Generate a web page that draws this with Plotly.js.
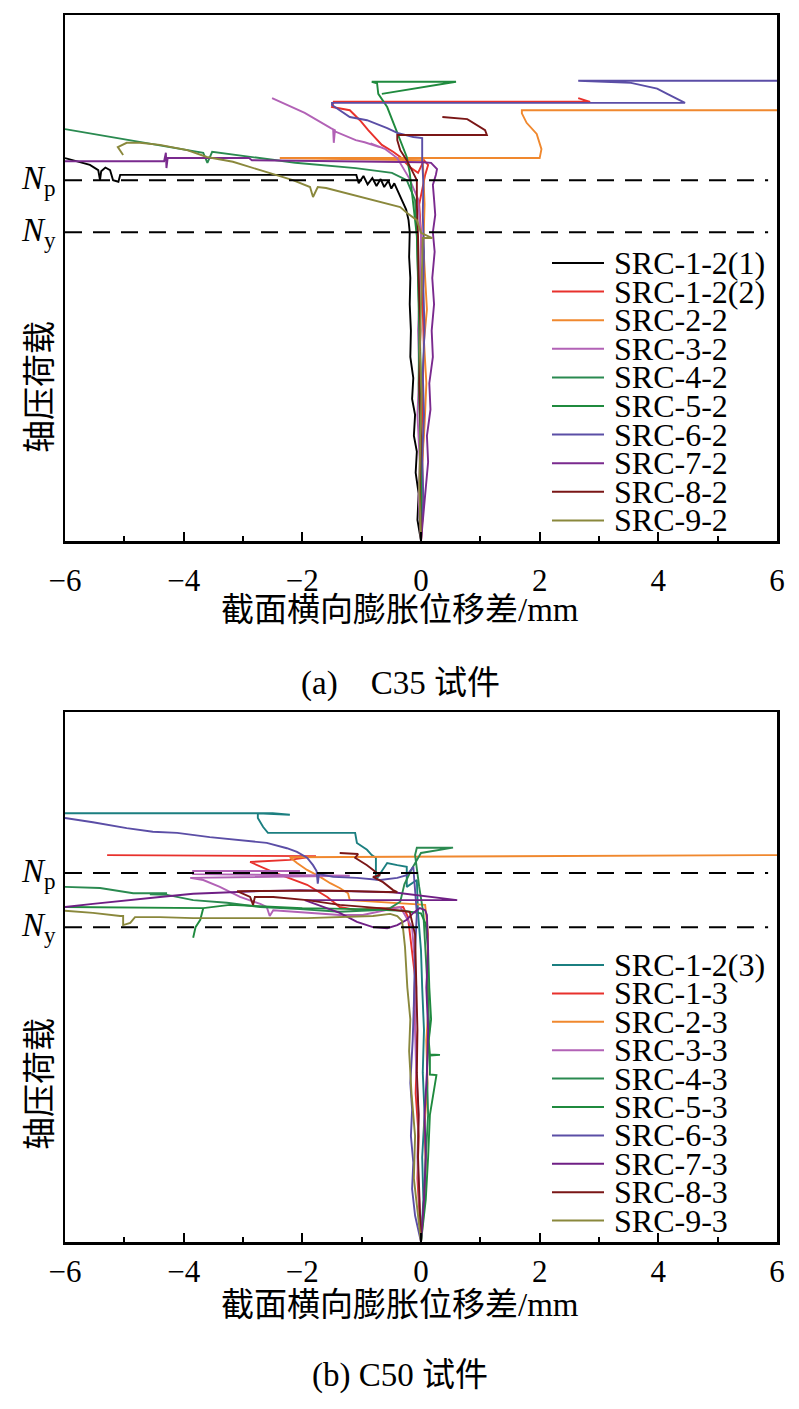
<!DOCTYPE html>
<html><head><meta charset="utf-8">
<script src="https://cdn.plot.ly/plotly-3.0.1.min.js"></script>
<style>html,body{margin:0;padding:0;background:#fff}</style>
</head><body>
<div id="chart" style="width:799px;height:1409px"></div>
<script>
// ---------- axis tick values ----------
const xTicks = [-6, -4, -2, 0, 2, 4, 6];
const xTitle = '截面横向膨胀位移差/mm';
const yTitle = '轴压荷载';

// ---------- (a) C35 specimens ----------
const aNames = ['SRC-1-2(1)','SRC-1-2(2)','SRC-2-2','SRC-3-2','SRC-4-2','SRC-5-2','SRC-6-2','SRC-7-2','SRC-8-2','SRC-9-2'];
const aColors = ['#000000','#e8312c','#f0882e','#b262b6','#2a8a50','#1f8a3e','#5b4ea6','#7a2a8e','#7a1616','#8a883c'];
const aNp = 68.6, aNy = 58.7;

const a1x = [0.00,-0.06,-0.04,-0.09,-0.07,-0.12,-0.10,-0.15,-0.13,-0.18,-0.17,-0.19,-0.18,-0.20,-0.19,-0.21,-0.25,-0.32,-0.40,-0.45,-0.50,-0.55,-0.62,-0.68,-0.75,-0.82,-0.90,-0.97,-1.05,-1.09,-5.07,-5.10,-5.19,-5.24,-5.32,-5.39,-5.41,-5.44,-5.58,-6.00];
const a1y = [0,4,9,13,17,20,24,27,31,35,40,45,50,54,58.7,61,63,64.8,66.5,68.0,67.0,68.5,67.3,68.8,67.5,69.0,67.8,69.4,68.0,69.6,69.6,68.3,68.6,70.5,71.0,70.3,68.6,70.5,71.5,72.8];
const a2x = [0.00,0.03,0.01,0.04,0.02,0.05,0.03,0.04,0.00,-0.03,0.07,0.12,0.05,-0.05,-0.19,-0.35,-0.47,-0.66,-0.89,-1.03,-1.20,-1.50,-1.47,2.85,2.65];
const a2y = [0,6,12,20,28,36,44,52,58.7,64,69.6,71.5,72.4,70.0,71.1,73.0,74.0,75.3,78.1,80.0,81.9,82.5,83.5,83.5,84.2];
const a3x = [0.00,0.04,0.02,0.06,0.09,0.05,0.10,0.07,0.04,0.06,0.03,-2.38,2.00,2.03,1.95,1.78,1.70,1.70,6.00];
const a3y = [0,7,15,22,30,38,44,50,56,64,72.4,72.8,72.8,74.5,77.4,79.5,81.3,81.9,81.9];
const a4x = [0.00,-0.04,-0.02,-0.06,-0.03,-0.05,-0.02,0.00,-0.05,-0.20,-0.40,-0.60,-0.85,-0.70,-0.95,-1.10,-1.48,-1.47,-1.45,-1.52,-1.96,-2.51];
const a4y = [0,8,15,24,32,40,48,58,65,69,72.8,74.5,75.6,74.9,75.8,76.2,78.0,75.7,78.1,78.5,81.4,84.2];
const a5x = [0.00,-0.02,-0.01,-0.04,-0.03,-0.05,-0.07,-0.10,-0.24,-0.49,-1.10,-2.12,-3.52,-3.60,-3.67,-6.00];
const a5y = [0,10,20,30,40,50,58.7,64.8,68.6,70.0,70.9,71.9,74.0,71.9,73.8,78.3];
const a6x = [0.00,0.01,-0.01,0.00,-0.02,-0.05,-0.07,-0.14,-0.19,-0.24,-0.35,-0.47,-0.57,-0.72,-0.74,-0.83,0.59,-0.66];
const a6y = [0,10,20,30,40,50,58,65,70.0,73.0,76.2,79.5,82.5,85.0,87.0,87.3,87.3,85.0];
const a7x = [0.00,0.04,0.02,0.05,0.03,0.06,0.04,0.05,0.03,0.04,0.02,0.02,-0.13,-0.40,-0.57,-0.81,-0.91,-1.20,-1.50,-1.50,4.45,4.15,3.98,3.54,3.07,2.65,6.00];
const a7y = [0,8,16,24,32,40,48,55,62,68,72.4,76.6,76.8,77.6,78.5,79.5,80.0,80.6,82.9,83.3,83.3,85.0,86.0,87.1,87.3,87.5,87.5];
const a8x = [0.00,0.04,0.08,0.12,0.10,0.16,0.14,0.20,0.18,0.22,0.19,0.23,0.20,0.24,0.22,0.20,0.25,0.27,0.17,0.03,-2.85,-2.90,-4.27,-4.29,-4.30,-4.33,-6.00];
const a8y = [0,5,10,15,20,25,30,35,40,45,50,55,58.7,62,65,67.7,69.6,70.7,71.9,72.0,72.4,72.8,72.8,70.9,73.8,72.2,72.2];
const a9x = [0.00,-0.02,0.00,-0.03,-0.01,-0.04,-0.05,-0.07,-0.07,-0.15,-0.24,-0.35,-0.40,-0.40,1.11,1.08,0.99,0.88,0.78,0.36];
const a9y = [0,10,20,30,40,50,58,64,68.6,70.5,72.4,74.3,76.2,77.2,77.2,78.1,78.7,79.5,80.2,80.6];
const a10x = [0.00,-0.03,-0.01,0.01,-0.02,0.00,0.02,0.03,0.19,0.00,-0.07,-0.24,-0.35,-1.60,-1.74,-1.82,-1.87,-2.16,-2.71,-3.17,-3.61,-3.94,-4.40,-4.74,-4.96,-5.11,-5.02];
const a10y = [0,10,20,28,36,44,52,57.6,57.6,58.6,61.0,62.4,63.5,67.1,67.3,65.4,67.3,68.6,70.5,72.1,73.0,74.3,75.3,75.7,75.7,74.9,73.4];

// ---------- (b) C50 specimens ----------
const bNames = ['SRC-1-2(3)','SRC-1-3','SRC-2-3','SRC-3-3','SRC-4-3','SRC-5-3','SRC-6-3','SRC-7-3','SRC-8-3','SRC-9-3'];
const bColors = ['#1b7f80','#e8312c','#f0882e','#b262b6','#2a8a50','#1f8a3e','#5b4ea6','#6f1f85','#7a1616','#8a883c'];
const bNp = 69.6, bNy = 59.4;

const b1x = [0.00,0.04,0.02,0.06,0.03,0.05,0.02,0.00,-0.05,-0.07,-0.24,-0.24,-0.40,-0.57,-0.76,-0.76,-0.83,-0.91,-1.08,-1.11,-2.58,-2.66,-2.75,-2.75,-2.21,-2.50,-6.00];
const b1y = [0,8,16,24,32,40,48,55,62,68.3,67.0,70.8,71.1,71.5,68.3,72.5,73.0,74.0,75.3,77.2,77.2,78.3,80.0,80.9,80.6,80.9,80.9];
const b2x = [0.00,-0.03,-0.06,-0.04,-0.09,-0.07,-0.12,-0.10,-0.15,-0.19,-0.22,-0.30,-0.55,-0.81,-1.08,-1.37,-1.58,-1.92,-2.49,-2.88,-2.21,-1.77,-5.29];
const b2y = [0,6,12,20,28,36,44,50,55,59.4,61.3,63.2,63.0,63.0,62.6,63.2,65.1,67.4,69.8,71.7,72.1,72.8,73.0];
const b3x = [0.00,0.05,0.08,0.06,0.11,0.09,0.13,0.10,0.12,0.07,-1.20,-1.23,-1.37,-1.53,-1.70,-1.92,-2.09,-2.21,6.00];
const b3y = [0,6,14,22,30,38,45,52,58,63.6,64.5,65.8,66.8,67.7,68.9,70.2,71.5,72.6,73.0];
const b4x = [0.00,-0.03,-0.06,-0.04,-0.08,-0.10,-0.08,-0.12,-0.15,-0.35,-0.98,-1.37,-1.92,-2.49,-2.55,-2.60,-2.71,-3.05,-3.39,-3.67,-3.89,-1.20,-3.84,-3.84,-2.04];
const b4y = [0,8,16,24,32,40,48,55,59.4,63.2,61.7,61.7,62.1,62.6,61.5,63.2,63.8,65.1,67.0,68.3,68.7,69.1,69.4,70.0,70.0];
const b5x = [0.00,0.05,0.08,0.12,0.10,0.14,0.11,0.08,0.04,-0.03,-0.10,-0.07,0.54,0.00,-0.15,-0.28,-0.35,-0.52,-0.81,-1.37,-1.92,-2.04,-2.71,-3.27,-3.84,-4.28,-4.57,-4.28,-4.85,-5.41,-6.00];
const b5y = [0,8,16,24,32,40,48,55,62,67,73.0,74.4,74.4,73.4,70.5,67.5,64.2,63.0,62.6,62.3,62.6,62.8,63.2,64.0,64.5,65.5,65.6,65.8,65.8,66.8,67.0];
const b6x = [0.00,0.08,0.12,0.15,0.26,0.15,0.15,0.32,0.15,0.13,0.17,0.14,0.12,0.08,0.00,-0.30,-1.00,-2.00,-3.22,-3.67,-6.00,-3.67,-3.72,-3.80,-3.84];
const b6y = [0,8,16,24,31.5,31.6,35.2,35.3,35.4,38,42,48,55,60,62,62.5,62.8,63.0,63.6,63.0,63.2,63.0,60.8,59.4,57.4];
const b7x = [0.00,-0.10,-0.15,-0.13,-0.17,-0.15,-0.18,-0.14,-0.12,-0.10,-0.07,-0.10,-0.13,-0.24,-0.40,-0.69,-1.08,-1.48,-1.72,-1.74,-1.76,-1.82,-1.92,-2.09,-2.26,-2.60,-3.05,-3.56,-4.11,-4.52,-4.96,-5.24,-5.53,-6.00];
const b7y = [0,5,10,15,20,25,30,38,45,55,62,66,70.8,69.2,68.7,68.3,68.7,68.9,69.4,67.6,70.0,71.1,72.5,73.6,74.3,75.3,75.8,76.4,77.2,77.4,78.1,78.7,79.2,80.0];
const b8x = [0.00,0.05,0.08,0.06,0.10,0.12,0.09,0.12,0.10,0.07,-0.02,-0.13,-0.24,-0.40,-0.57,-0.81,-1.08,-1.37,-1.96,0.61,-0.47,-2.04,-2.71,-3.27,-3.84,-4.40,-4.96,-5.53,-6.00];
const b8y = [0,8,16,24,32,40,48,55,61.7,62.6,63.0,62.1,60.8,59.8,59.2,59.4,60.4,62.1,64.5,64.5,66.0,66.4,66.2,66.0,65.7,65.1,64.5,63.8,63.2];
const b9x = [0.00,-0.03,-0.05,-0.04,-0.07,-0.06,-0.08,-0.10,-0.19,-0.70,-1.37,-1.92,-2.49,-2.80,-2.83,-2.88,-3.10,-1.50,-0.40,-0.47,-0.64,-0.81,-0.69,-0.81,-0.91,-1.11,-1.06,-1.37];
const b9y = [0,8,16,24,32,40,50,58,62.3,63.0,63.6,64.5,65.1,65.1,63.6,65.1,66.2,66.3,66.0,66.4,67.9,68.9,69.2,70.2,71.1,72.5,73.2,73.4];
const b10x = [0.00,-0.06,-0.12,-0.10,-0.16,-0.20,-0.18,-0.23,-0.25,-0.27,-0.30,-0.32,-0.40,-0.52,-0.81,-1.37,-1.92,-3.05,-3.84,-4.40,-4.82,-4.90,-5.02,-5.02,-5.07,-5.53,-6.00];
const b10y = [0,6,12,20,28,36,42,48,52,55.7,58.9,60.6,61.5,61.9,61.5,61.3,61.1,61.1,61.1,61.3,61.3,60.2,59.8,61.5,61.5,62.1,62.5];

const aXs = [a1x,a2x,a3x,a4x,a5x,a6x,a7x,a8x,a9x,a10x];
const aYs = [a1y,a2y,a3y,a4y,a5y,a6y,a7y,a8y,a9y,a10y];
const bXs = [b1x,b2x,b3x,b4x,b5x,b6x,b7x,b8x,b9x,b10x];
const bYs = [b1y,b2y,b3y,b4y,b5y,b6y,b7y,b8y,b9y,b10y];

// ---------- layout helpers ----------
const W = 799, H = 1409;
const px = v => v / W;
const py = v => 1 - v / H;
const FONT = 'Liberation Serif, "Times New Roman", "Noto Sans CJK SC", serif';

const traces = [];
aNames.forEach((n, i) => traces.push({x: aXs[i], y: aYs[i], name: n, type: 'scatter', mode: 'lines',
  xaxis: 'x', yaxis: 'y', line: {color: aColors[i], width: 1.9}, hoverinfo: 'skip'}));
bNames.forEach((n, i) => traces.push({x: bXs[i], y: bYs[i], name: n, type: 'scatter', mode: 'lines',
  xaxis: 'x2', yaxis: 'y2', line: {color: bColors[i], width: 1.9}, hoverinfo: 'skip'}));

function xAxis(anchor, standoff) {
  return {domain: [px(65), px(777)], range: [-6, 6], anchor: anchor, tickvals: xTicks,
    ticks: 'inside', ticklen: 9, tickwidth: 2, tickcolor: '#000', ticklabelstandoff: standoff,
    minor: {dtick: 1, ticks: 'inside', ticklen: 5, tickwidth: 2, tickcolor: '#000'},
    showline: true, linewidth: 2.5, linecolor: '#000', mirror: true,
    showgrid: false, zeroline: false, tickfont: {family: FONT, size: 31, color: '#000'}};
}
function yAxis(anchor, d) {
  return {domain: d, range: [0, 100], anchor: anchor, showticklabels: false, ticks: '',
    showline: true, linewidth: 2.5, linecolor: '#000', mirror: true,
    showgrid: false, zeroline: false};
}

const shapes = [];
const annotations = [];
function dashed(xr, yr, v) {
  shapes.push({type: 'line', xref: xr, yref: yr, x0: -6, x1: 5.85, y0: v, y1: v,
    line: {color: '#000', width: 2, dash: '17px,11px'}});
}
dashed('x', 'y', aNp); dashed('x', 'y', aNy);
dashed('x2', 'y2', bNp); dashed('x2', 'y2', bNy);

function txt(text, x, y, size, opts) {
  annotations.push(Object.assign({text: text, x: x, y: y, xref: 'paper', yref: 'paper',
    showarrow: false, font: {family: FONT, size: size, color: '#000'}}, opts || {}));
}
// N labels
txt('<i>N</i><sub>p</sub>', px(58), 0, 33, {xanchor: 'right', yanchor: 'middle', yref: 'y', y: aNp});
txt('<i>N</i><sub>y</sub>', px(58), 0, 33, {xanchor: 'right', yanchor: 'middle', yref: 'y', y: aNy});
txt('<i>N</i><sub>p</sub>', px(58), 0, 33, {xanchor: 'right', yanchor: 'middle', yref: 'y2', y: bNp});
txt('<i>N</i><sub>y</sub>', px(58), 0, 33, {xanchor: 'right', yanchor: 'middle', yref: 'y2', y: bNy});
// axis titles
txt(xTitle, px(400), py(610), 33, {xanchor: 'center', yanchor: 'middle'});
txt(xTitle, px(400), py(1305), 33, {xanchor: 'center', yanchor: 'middle'});
txt(yTitle, px(40), py(387), 33, {xanchor: 'center', yanchor: 'middle', textangle: -90});
txt(yTitle, px(40), py(1084), 33, {xanchor: 'center', yanchor: 'middle', textangle: -90});
// captions
txt('(a)&nbsp;&nbsp;&nbsp;&nbsp;C35 试件', px(401), py(683), 33, {xanchor: 'center', yanchor: 'middle'});
txt('(b) C50 试件', px(400), py(1375), 33, {xanchor: 'center', yanchor: 'middle'});

// legends (drawn as text + sample line)
function legend(names, colors, top, step) {
  names.forEach((n, i) => {
    const yy = top + i * step;
    shapes.push({type: 'line', xref: 'paper', yref: 'paper', x0: px(552), x1: px(604), y0: py(yy), y1: py(yy),
      line: {color: colors[i], width: 2}});
    txt(n, px(612), py(yy), 32, {xanchor: 'left', yanchor: 'middle'});
  });
}
legend(aNames, aColors, 263, 28.6);
legend(bNames, bColors, 965, 28.4);

const layout = {
  width: W, height: H, margin: {l: 0, r: 0, t: 0, b: 0, autoexpand: false},
  paper_bgcolor: '#fff', plot_bgcolor: '#fff', showlegend: false,
  xaxis: xAxis('y', 10), yaxis: yAxis('x', [py(541), py(15)]),
  xaxis2: xAxis('y2', 0), yaxis2: yAxis('x2', [py(1242), py(712)]),
  shapes: shapes, annotations: annotations, font: {family: FONT}
};
Plotly.newPlot('chart', traces, layout, {staticPlot: true, displayModeBar: false});
</script>
</body></html>
